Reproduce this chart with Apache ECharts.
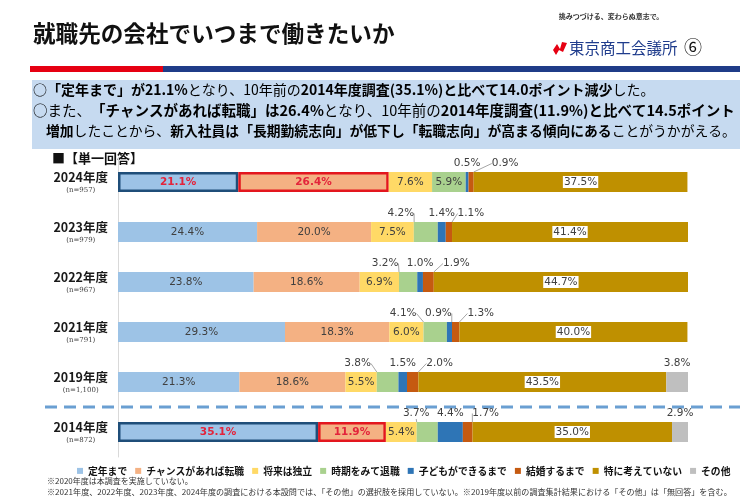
<!DOCTYPE html>
<html><head><meta charset="utf-8">
<script src="https://cdn.jsdelivr.net/npm/echarts@6/dist/echarts.min.js"></script>
<style>html,body{margin:0;padding:0;background:#fff}#c{width:750px;height:500px}</style>
</head><body><div id="c"></div>
<script>
// ---- data ----
const years = ['2024年度','2023年度','2022年度','2021年度','2019年度','2014年度'];
const sampleSizes = ['(n=957)','(n=979)','(n=967)','(n=791)','(n=1,100)','(n=872)'];
const seriesNames = ['定年まで','チャンスがあれば転職','将来は独立','時期をみて退職','子どもができるまで','結婚するまで','特に考えていない','その他'];
const teinen    = [21.1, 24.4, 23.8, 29.3, 21.3, 35.1];
const chance    = [26.4, 20.0, 18.6, 18.3, 18.6, 11.9];
const dokuritsu = [7.6, 7.5, 6.9, 6.0, 5.5, 5.4];
const jiki      = [5.9, 4.2, 3.2, 4.1, 3.8, 3.7];
const kodomo    = [0.5, 1.4, 1.0, 0.9, 1.5, 4.4];
const kekkon    = [0.9, 1.1, 1.9, 1.3, 2.0, 1.7];
const tokuni    = [37.5, 41.4, 44.7, 40.0, 43.5, 35.0];
const sonota    = [0, 0, 0, 0, 3.8, 2.9];
const allValues = [teinen, chance, dokuritsu, jiki, kodomo, kekkon, tokuni, sonota];

// ---- style / layout config ----
const colors = ['#9DC3E6','#F4B183','#FFD966','#A9D18E','#2E75B6','#C55A11','#BF9000','#BFBFBF'];
const FONT_JP = '"Noto Sans CJK JP", sans-serif';
const FONT_NUM = '"DejaVu Sans", Verdana, sans-serif';
// labels drawn above the bar: [seriesIndex][rowIndex] -> horizontal shift (null = inside)
const outsideShift = {
  3: [null, -25, -23, -32, -30, -11],
  4: [0, 0, 0, -11, 0, 0],
  5: [34, 22, 28, 25, 27, 18],
  7: [null, null, null, null, 0, 0]
};
const highlightRows = [0, 5];
const highlightBorder = {0: '#1F4E79', 1: '#E3161E'};

function buildData(si) {
  return allValues[si].map((v, ri) => {
    const item = { value: v };
    if (v === 0) { item.label = { show: false }; return item; }
    const shifts = outsideShift[si];
    if (shifts && shifts[ri] !== null && shifts[ri] !== undefined) {
      item.label = { show: true, position: 'top', distance: 3, color: '#404040' };
      if (shifts[ri] !== 0) item.labelLine = { show: true, lineStyle: { color: '#A6A6A6', width: 1 } };
    }
    if (highlightRows.includes(ri) && highlightBorder[si]) {
      item.itemStyle = { borderColor: highlightBorder[si], borderWidth: 2.5 };
      item.label = { show: true, color: '#E3243B', fontWeight: 'bold' };
    }
    if (si === 6) {
      item.label = Object.assign({ backgroundColor: '#fff', padding: [1, 1, 0, 1] }, item.label || {});
    }
    return item;
  });
}

const chart = echarts.init(document.getElementById('c'));
const series = seriesNames.map((name, si) => ({
  name, type: 'bar', stack: 'total', barWidth: 20,
  itemStyle: { color: colors[si] },
  label: {
    show: true, position: 'inside', color: '#404040',
    fontFamily: FONT_NUM, fontSize: 10.5,
    formatter: p => p.value.toFixed(1) + '%'
  },
  labelLayout: (params) => {
    const s = outsideShift[params.seriesIndex];
    if (s && s[params.dataIndex]) return { dx: s[params.dataIndex], dy: 0 };
    return {};
  },
  data: buildData(si)
}));

chart.setOption({
  animation: false,
  color: colors,
  grid: { left: 118, right: 62, top: 157, bottom: 43 },
  xAxis: { type: 'value', min: 0, max: 100, show: false },
  yAxis: {
    type: 'category', data: years, inverse: true,
    axisLine: { lineStyle: { color: '#D9D9D9' } },
    axisTick: { show: false },
    axisLabel: {
      margin: 10,
      formatter: (v, i) => '{a|' + v + '}\n{b|' + sampleSizes[i] + '}',
      rich: {
        a: { fontFamily: FONT_JP, fontWeight: 'bold', fontSize: 12.5, color: '#1a1a1a', align: 'center', lineHeight: 16 },
        b: { fontFamily: '"DejaVu Serif", serif', fontSize: 7, color: '#404040', align: 'center', lineHeight: 10 }
      }
    }
  },
  legend: {
    data: seriesNames, left: 72, top: 461, icon: 'rect', itemWidth: 6, itemHeight: 6, itemGap: 8,
    textStyle: { fontFamily: FONT_JP, fontWeight: 'bold', fontSize: 9.8, color: '#111' }
  },
  series
});

// ---- decorations ----
const yA = chart.convertToPixel({ yAxisIndex: 0 }, years[4]);
const yB = chart.convertToPixel({ yAxisIndex: 0 }, years[5]);
const dashY = (yA + yB) / 2;

const mkRich = (fs) => ({
  r: { fontFamily: FONT_JP, fontSize: fs, color: '#000', fontWeight: 'normal' },
  b: { fontFamily: FONT_JP, fontSize: fs, color: '#000', fontWeight: 'bold' }
});
chart.setOption({
  graphic: [
    { type: 'text', x: 33, y: 33, style: { text: '就職先の会社でいつまで働きたいか', font: 'bold 22.6px ' + FONT_JP, fill: '#111', verticalAlign: 'middle' } },
    { type: 'text', x: 611, y: 16, style: { text: '挑みつづける、変わらぬ意志で。', font: 'bold 7px "Noto Sans CJK JP"', fill: '#333', align: 'center', verticalAlign: 'middle' } },
    { type: 'polygon', shape: { points: [[553,50],[557,44],[560,49],[562,42],[567,43],[563,52],[559,50],[556,55]] }, style: { fill: '#E60012' } },
    { type: 'text', x: 569, y: 48, style: { text: '東京商工会議所', font: '15.5px ' + FONT_JP, fill: '#1F3C8C', verticalAlign: 'middle' } },
    { type: 'text', x: 684, y: 47, style: { text: '⑥', font: '18px "Noto Sans CJK JP"', fill: '#111', verticalAlign: 'middle' } },
    { type: 'rect', shape: { x: 30, y: 66, width: 133, height: 6 }, style: { fill: '#E60012' } },
    { type: 'rect', shape: { x: 163, y: 66, width: 577, height: 6 }, style: { fill: '#1F3C88' } },
    { type: 'rect', shape: { x: 32, y: 80, width: 708, height: 69 }, style: { fill: '#C6DAF0' } },
    { type: 'text', x: 33, y: 90, style: { verticalAlign: 'middle', rich: mkRich(14),
      text: '{r|○}{b|「定年まで」が21.1%}{r|となり、10年前の}{b|2014年度調査(35.1%)と比べて14.0ポイント減少}{r|した。}' } },
    { type: 'text', x: 33, y: 110, style: { verticalAlign: 'middle', rich: mkRich(14.5),
      text: '{r|○また、}{b|「チャンスがあれば転職」は26.4%}{r|となり、10年前の}{b|2014年度調査(11.9%)と比べて14.5ポイント}' } },
    { type: 'text', x: 46, y: 131, style: { verticalAlign: 'middle', rich: mkRich(13.8),
      text: '{b|増加}{r|したことから、}{b|新入社員は「長期勤続志向」が低下し「転職志向」が高まる傾向にある}{r|ことがうかがえる。}' } },
    { type: 'text', x: 52, y: 158, style: { text: '■【単一回答】', font: 'bold 13px ' + FONT_JP, fill: '#111', verticalAlign: 'middle' } },
    { type: 'line', shape: { x1: 45, y1: dashY, x2: 740, y2: dashY }, style: { stroke: '#6A9FD2', lineWidth: 3, lineDash: [12, 7] } },
    { type: 'text', x: 47, y: 481, style: { text: '※2020年度は本調査を実施していない。', font: '8px ' + FONT_JP, fill: '#333', verticalAlign: 'middle' } },
    { type: 'text', x: 47, y: 492, style: { text: '※2021年度、2022年度、2023年度、2024年度の調査における本設問では、「その他」の選択肢を採用していない。※2019年度以前の調査集計結果における「その他」は「無回答」を含む。', font: '8.1px ' + FONT_JP, fill: '#333', verticalAlign: 'middle' } }
  ]
});
</script></body></html>
